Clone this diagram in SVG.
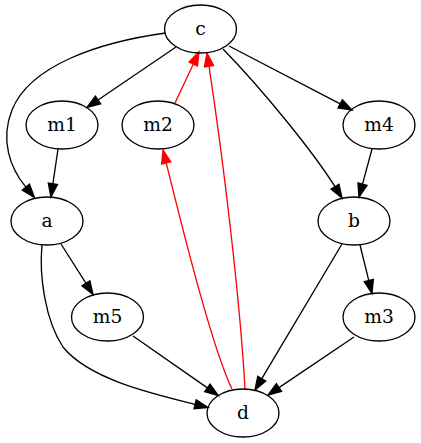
<svg xmlns="http://www.w3.org/2000/svg" width="421" height="443" viewBox="0 0 421 443">
<defs>
<style>
.node ellipse{fill:none;stroke:#000;stroke-width:1.33}
.node text{font-family:"DejaVu Serif","Liberation Serif",serif;font-size:18.67px;text-anchor:middle;fill:#000}
.e{fill:none;stroke:#000;stroke-width:1.33}
.r{fill:none;stroke:#f00;stroke-width:1.33}
</style>
<marker id="ab" viewBox="0 0 14 10" refX="0" refY="5" markerWidth="14" markerHeight="10" markerUnits="userSpaceOnUse" orient="auto" overflow="visible">
<path d="M0,0.33 L13.33,5 L0,9.67 Z" fill="#000" stroke="#000" stroke-width="1.33"/>
</marker>
<marker id="ar" viewBox="0 0 14 10" refX="0" refY="5" markerWidth="14" markerHeight="10" markerUnits="userSpaceOnUse" orient="auto" overflow="visible">
<path d="M0,0.33 L13.33,5 L0,9.67 Z" fill="#f00" stroke="#f00" stroke-width="1.33"/>
</marker>
</defs>
<rect width="421" height="443" fill="#fff"/>
<g id="edges">
<path class="e" marker-end="url(#ab)" d="M176,47 L98,100"/>
<path class="r" marker-end="url(#ar)" d="M175,103 L193.3,64"/>
<path class="r" marker-end="url(#ar)" d="M245,389 C240,300 224,165 209,66.2"/>
<path class="r" marker-end="url(#ar)" d="M232,389 C213,350 185.4,240.5 166.2,162.9"/>
<path class="e" marker-end="url(#ab)" d="M229,46 L340.2,103.9"/>
<path class="e" marker-end="url(#ab)" d="M223,49 C263,90 313.8,152.7 335,186.7"/>
<path class="e" marker-end="url(#ab)" d="M165.7,33 C100,42 30,65 12,110 C0,140 10,168 25.9,187.2"/>
<path class="e" marker-end="url(#ab)" d="M58,149 L52.9,183.8"/>
<path class="e" marker-end="url(#ab)" d="M372,149 L362.5,184.2"/>
<path class="e" marker-end="url(#ab)" d="M61,244 L85.9,283.2"/>
<path class="e" marker-end="url(#ab)" d="M42,245 C39,275 45,320 63,347 C88,378 146.5,392.4 195.1,404.3"/>
<path class="e" marker-end="url(#ab)" d="M360,245 L368.8,280.6"/>
<path class="e" marker-end="url(#ab)" d="M342,244 L261.8,378.6"/>
<path class="e" marker-end="url(#ab)" d="M133,336 L207.4,387.9"/>
<path class="e" marker-end="url(#ab)" d="M354,337 L279,387.6"/>
</g>
<g id="c" class="node"><ellipse cx="200.5" cy="29" rx="36" ry="24"/><text x="200.5" y="35">c</text></g>
<g id="m1" class="node"><ellipse cx="62" cy="125" rx="36" ry="24"/><text x="62" y="131">m1</text></g>
<g id="m2" class="node"><ellipse cx="158" cy="125" rx="36" ry="24"/><text x="158" y="131">m2</text></g>
<g id="m4" class="node"><ellipse cx="379" cy="125" rx="36" ry="24"/><text x="379" y="131">m4</text></g>
<g id="a" class="node"><ellipse cx="47" cy="221" rx="36" ry="24"/><text x="47" y="227">a</text></g>
<g id="b" class="node"><ellipse cx="354" cy="221" rx="36" ry="24"/><text x="354" y="227">b</text></g>
<g id="m5" class="node"><ellipse cx="107.5" cy="317" rx="36" ry="24"/><text x="107.5" y="323">m5</text></g>
<g id="m3" class="node"><ellipse cx="379" cy="317" rx="36" ry="24"/><text x="379" y="323">m3</text></g>
<g id="d" class="node"><ellipse cx="243" cy="413" rx="36" ry="24"/><text x="243" y="419">d</text></g>
</svg>
